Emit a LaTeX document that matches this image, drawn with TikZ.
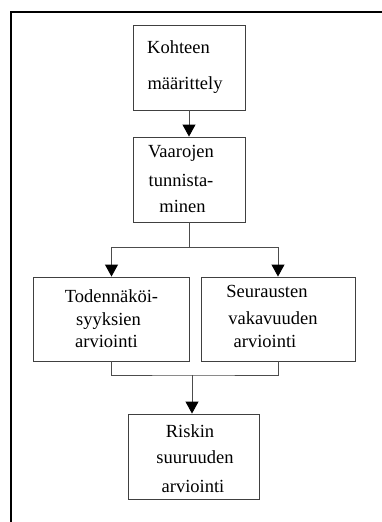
\documentclass[tikz,border=0pt]{standalone}
\usepackage{fontspec}
\setmainfont{Liberation Serif}
\usetikzlibrary{arrows.meta}
\begin{document}
\begin{tikzpicture}[x=1pt,y=-1pt,
  box/.style={draw=black!75,line width=0.9pt,inner sep=0pt},
  txt/.style={inner sep=0pt,anchor=base,font=\fontsize{18.5}{22}\selectfont,text=black},
  link/.style={draw=black!70,line width=0.9pt},
  arr/.style={link,-{Triangle[width=13pt,length=12pt,color=black]}}]
\useasboundingbox (0,0) rectangle (382,522);
% frame
\draw[line width=1.4pt] (11,522) -- (11,12) -- (382,12);
% boxes
\node[box,minimum width=112pt,minimum height=85pt] (b1) at (189,67.5) {};
\node[box,minimum width=112pt,minimum height=85pt] (b2) at (189,179.5) {};
\node[box,minimum width=156pt,minimum height=84pt] (b3) at (111.5,319) {};
\node[box,minimum width=154pt,minimum height=84pt] (b4) at (278,319) {};
\node[box,minimum width=131pt,minimum height=85pt] (b5) at (193.5,456.5) {};
% labels
\node[txt] (t11) at (178.5,53) {Kohteen};
\node[txt] (t12) at (185,89) {määrittely};
\node[txt] (t21) at (181,157) {Vaarojen};
\node[txt] (t22) at (181,186) {tunnista-};
\node[txt] (t23) at (182.5,212) {minen};
\node[txt] (t31) at (111.5,302) {Todennäköi-};
\node[txt] (t32) at (108.5,325) {syyksien};
\node[txt] (t33) at (106.5,347) {arviointi};
\node[txt] (t41) at (267,297) {Seurausten};
\node[txt] (t42) at (273,324) {vakavuuden};
\node[txt] (t43) at (265,347) {arviointi};
\node[txt] (t51) at (190,437) {Riskin};
\node[txt] (t52) at (195,463) {suuruuden};
\node[txt] (t53) at (193,492) {arviointi};
% connectors
\draw[arr] (b1.south) -- (b2.north);
\coordinate (split) at (189,247);
\draw[link] (b2.south) -- (split);
\draw[arr] (split) -| (b3.north);
\draw[arr] (split) -| (b4.north);
\coordinate (join) at (192,375);
\draw[link] (b3.south) |- (join) -| (b4.south);
\draw[arr] (join) -- (join |- b5.north);
\end{tikzpicture}
\end{document}
